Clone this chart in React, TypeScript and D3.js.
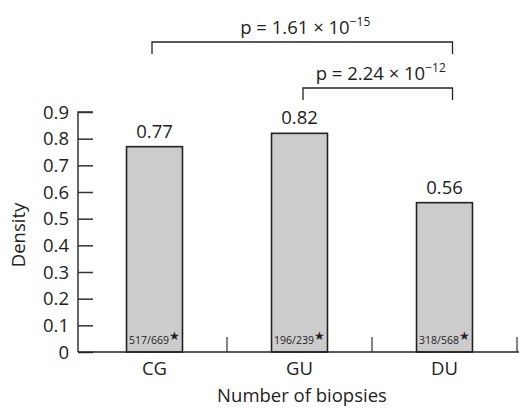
import * as d3 from "d3";
import { useEffect, useRef } from "react";

const categories = ["CG", "GU", "DU"];
const densities = [0.77, 0.82, 0.56];
const counts = ["517/669", "196/239", "318/568"];
const yTicks = [0, 0.1, 0.2, 0.3, 0.4, 0.5, 0.6, 0.7, 0.8, 0.9];
const comparisons = [
    { from: "CG", to: "DU", mant: "1.61", exp: "−15" },
    { from: "GU", to: "DU", mant: "2.24", exp: "−12" },
];

export default function App() {
    const ref = useRef<SVGSVGElement | null>(null);

    useEffect(() => {
        if (!ref.current) return;
        const width = 519;
        const height = 408;
        const margin = { left: 78, top: 112, bottom: 56 };
        const font = "'Open Sans', Lato, sans-serif";
        const fs = 18.5;
        const ink = "#222";

        const svg = d3.select(ref.current);
        svg.selectAll("*").remove();

        const x = d3.scaleBand<string>()
            .domain(categories)
            .range([82, 517])
            .padding(0);
        const y = d3.scaleLinear()
            .domain([0, 0.9])
            .range([height - margin.bottom, margin.top]);

        const step = x.step();
        const barW = step * 0.386;
        const y0 = y(0);
        const cx = (d: string) => x(d)! + step / 2;

        // bars
        svg.append("g")
            .selectAll("rect")
            .data(categories)
            .join("rect")
            .attr("x", (d) => cx(d) - barW / 2)
            .attr("y", (d, i) => y(densities[i]))
            .attr("width", barW)
            .attr("height", (d, i) => y0 - y(densities[i]))
            .attr("fill", "#cccccc")
            .attr("stroke", ink)
            .attr("stroke-width", 1.6);

        // value labels
        svg.append("g")
            .selectAll("text")
            .data(categories)
            .join("text")
            .attr("x", cx)
            .attr("y", (d, i) => y(densities[i]) - 9)
            .attr("text-anchor", "middle")
            .attr("font-family", font)
            .attr("font-size", fs)
            .attr("fill", ink)
            .text((d, i) => densities[i].toFixed(2));

        // counts inside bars
        const cnt = svg.append("g")
            .selectAll("text")
            .data(categories)
            .join("text")
            .attr("x", cx)
            .attr("y", y0 - 8)
            .attr("text-anchor", "middle")
            .attr("font-family", font)
            .attr("font-size", 10.5)
            .attr("fill", ink);
        cnt.append("tspan").text((d, i) => counts[i]);
        cnt.append("tspan").attr("dy", -4).attr("font-size", 12).text("★");

        // y axis
        const yAxis = svg.append("g")
            .attr("transform", `translate(${margin.left},0)`)
            .call(d3.axisRight(y).tickValues(yTicks).tickSize(15).tickFormat(() => ""));
        yAxis.select(".domain").attr("d", `M15,${y(0.9)}H0V${y0}`).attr("stroke", "#333").attr("stroke-width", 1.5);
        yAxis.selectAll(".tick line").attr("stroke", "#333").attr("stroke-width", 1.5);
        svg.append("g")
            .selectAll("text")
            .data(yTicks)
            .join("text")
            .attr("x", margin.left - 9)
            .attr("y", (d) => y(d))
            .attr("dy", "0.36em")
            .attr("text-anchor", "end")
            .attr("font-family", font)
            .attr("font-size", fs)
            .attr("fill", ink)
            .text((d) => (d === 0 ? "0" : d3.format(".1f")(d)));

        // x axis
        const xg = svg.append("g");
        xg.append("line")
            .attr("x1", margin.left)
            .attr("x2", width)
            .attr("y1", y0)
            .attr("y2", y0)
            .attr("stroke", ink)
            .attr("stroke-width", 1.6);
        xg.selectAll("line.tk")
            .data(categories)
            .join("line")
            .attr("class", "tk")
            .attr("x1", (d) => Math.min(x(d)! + step, width - 1))
            .attr("x2", (d) => Math.min(x(d)! + step, width - 1))
            .attr("y1", y0)
            .attr("y2", y0 - 15)
            .attr("stroke", "#333")
            .attr("stroke-width", 1.2);
        xg.selectAll("text")
            .data(categories)
            .join("text")
            .attr("x", cx)
            .attr("y", y0 + 23)
            .attr("text-anchor", "middle")
            .attr("font-family", font)
            .attr("font-size", fs)
            .attr("fill", ink)
            .text((d) => d);

        svg.append("text")
            .attr("x", 302)
            .attr("y", 402)
            .attr("text-anchor", "middle")
            .attr("font-family", font)
            .attr("font-size", fs)
            .attr("fill", ink)
            .text("Number of biopsies");

        svg.append("text")
            .attr("transform", `translate(25,235) rotate(-90)`)
            .attr("text-anchor", "middle")
            .attr("font-family", font)
            .attr("font-size", fs)
            .attr("fill", ink)
            .text("Density");

        // significance brackets
        const brackets = svg.append("g");
        const offs = [[-2.5, 8, 42], [3.5, 8, 88]];
        comparisons.forEach((c, i) => {
            const [o1, o2, by] = offs[i];
            const x1 = cx(c.from) + o1;
            const x2 = cx(c.to) + o2;
            brackets.append("path")
                .attr("d", `M${x1},${by + 12}V${by}H${x2}V${by + 12}`)
                .attr("fill", "none")
                .attr("stroke", ink)
                .attr("stroke-width", 1.3);
            const t = brackets.append("text")
                .attr("x", (x1 + x2) / 2 + 3)
                .attr("y", by - 8)
                .attr("text-anchor", "middle")
                .attr("font-family", font)
                .attr("font-size", fs)
                .attr("fill", ink);
            t.append("tspan").text(`p = ${c.mant} × 10`);
            t.append("tspan").attr("dy", -8).attr("font-size", 12).text(c.exp);
        });
    }, []);

    return (
        <svg
            ref={ref}
            width={519}
            height={408}
            style={{ position: "absolute", left: 0, top: 0, background: "white" }}
        />
    );
}
